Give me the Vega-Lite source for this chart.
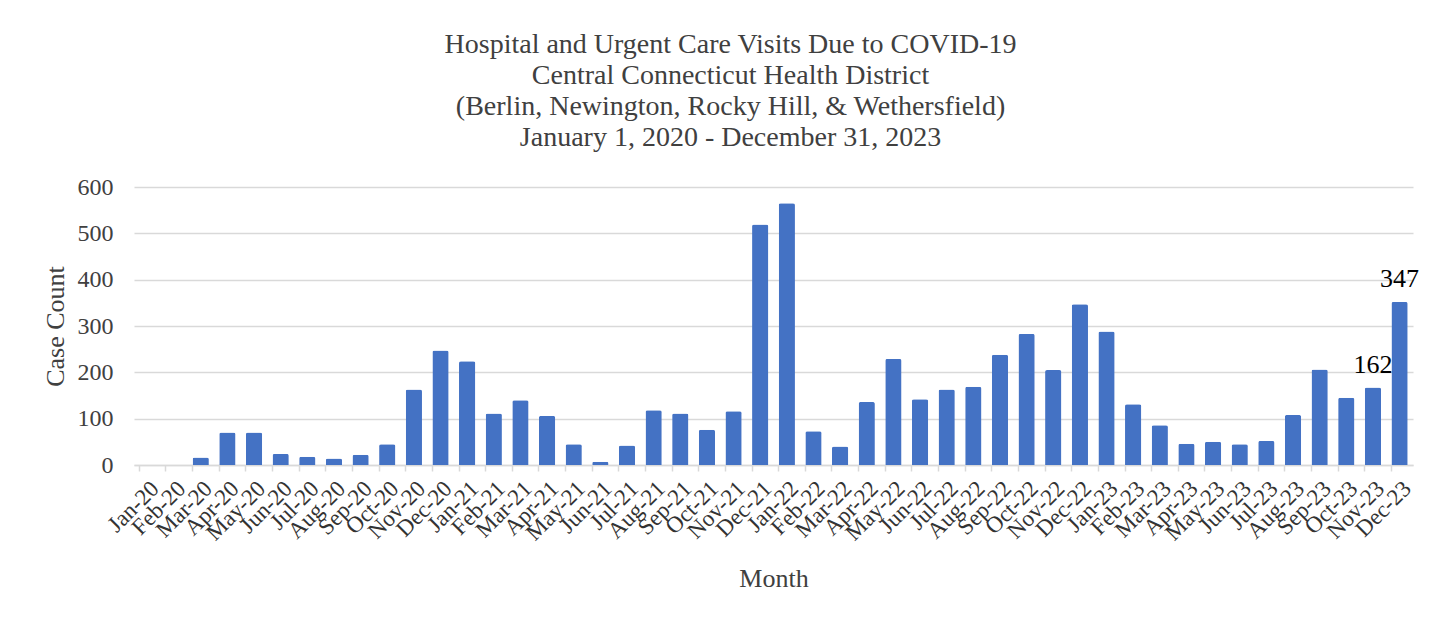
{
  "$schema": "https://vega.github.io/schema/vega-lite/v6.json",
  "width": 1279,
  "height": 278,
  "autosize": {"type": "pad"},
  "padding": {"left": 42, "top": 31, "right": 38, "bottom": 10},
  "background": "white",
  "title": {
    "text": ["Hospital and Urgent Care Visits Due to COVID-19", "Central Connecticut Health District", "(Berlin, Newington, Rocky Hill, & Wethersfield)", "January 1, 2020 - December 31, 2023"],
    "font": "Liberation Serif",
    "fontSize": 28,
    "fontWeight": "normal",
    "color": "#404040",
    "lineHeight": 31,
    "anchor": "middle",
    "frame": "bounds",
    "offset": 23
  },
  "data": {
    "values": [
      {"month": "Jan-20", "count": 0},
      {"month": "Feb-20", "count": 0},
      {"month": "Mar-20", "count": 16},
      {"month": "Apr-20", "count": 70},
      {"month": "May-20", "count": 70},
      {"month": "Jun-20", "count": 24},
      {"month": "Jul-20", "count": 18},
      {"month": "Aug-20", "count": 14},
      {"month": "Sep-20", "count": 22},
      {"month": "Oct-20", "count": 45},
      {"month": "Nov-20", "count": 163},
      {"month": "Dec-20", "count": 247},
      {"month": "Jan-21", "count": 224},
      {"month": "Feb-21", "count": 111},
      {"month": "Mar-21", "count": 140},
      {"month": "Apr-21", "count": 106},
      {"month": "May-21", "count": 45},
      {"month": "Jun-21", "count": 7},
      {"month": "Jul-21", "count": 42},
      {"month": "Aug-21", "count": 118},
      {"month": "Sep-21", "count": 111},
      {"month": "Oct-21", "count": 76},
      {"month": "Nov-21", "count": 116},
      {"month": "Dec-21", "count": 519},
      {"month": "Jan-22", "count": 565},
      {"month": "Feb-22", "count": 73},
      {"month": "Mar-22", "count": 40},
      {"month": "Apr-22", "count": 136},
      {"month": "May-22", "count": 229},
      {"month": "Jun-22", "count": 142},
      {"month": "Jul-22", "count": 163},
      {"month": "Aug-22", "count": 169},
      {"month": "Sep-22", "count": 238},
      {"month": "Oct-22", "count": 283},
      {"month": "Nov-22", "count": 205},
      {"month": "Dec-22", "count": 347},
      {"month": "Jan-23", "count": 288},
      {"month": "Feb-23", "count": 131},
      {"month": "Mar-23", "count": 86},
      {"month": "Apr-23", "count": 46},
      {"month": "May-23", "count": 50},
      {"month": "Jun-23", "count": 45},
      {"month": "Jul-23", "count": 52},
      {"month": "Aug-23", "count": 108},
      {"month": "Sep-23", "count": 206},
      {"month": "Oct-23", "count": 145},
      {"month": "Nov-23", "count": 167, "label": "162"},
      {"month": "Dec-23", "count": 352, "label": "347"}
    ]
  },
  "encoding": {
    "x": {
      "field": "month",
      "type": "nominal",
      "sort": null,
      "scale": {"paddingInner": 0.39, "paddingOuter": 0.2},
      "axis": {
        "title": "Month",
        "titleFont": "Liberation Serif",
        "titleFontSize": 26,
        "titleFontWeight": "normal",
        "titleColor": "#404040",
        "titlePadding": 21,
        "labelFont": "Liberation Serif",
        "labelFontSize": 23,
        "labelColor": "#333333",
        "labelAngle": -45,
        "labelPadding": 6,
        "labelOverlap": false,
        "domainColor": "#d9d9d9",
        "domainWidth": 1.5,
        "tickColor": "#d9d9d9",
        "tickWidth": 1.5,
        "tickSize": 6,
        "bandPosition": 0,
        "grid": false
      }
    },
    "y": {
      "field": "count",
      "type": "quantitative",
      "scale": {"domain": [0, 600]},
      "axis": {
        "title": "Case Count",
        "titleFont": "Liberation Serif",
        "titleFontSize": 26,
        "titleFontWeight": "normal",
        "titleColor": "#404040",
        "titlePadding": 9,
        "labelFont": "Liberation Serif",
        "labelFontSize": 24,
        "labelColor": "#404040",
        "labelPadding": 21,
        "labelOverlap": false,
        "values": [0, 100, 200, 300, 400, 500, 600],
        "domain": false,
        "ticks": false,
        "grid": true,
        "gridColor": "#d9d9d9",
        "gridWidth": 1.5
      }
    }
  },
  "layer": [
    {
      "mark": {"type": "bar", "color": "#4472C4", "cornerRadiusEnd": 2}
    },
    {
      "transform": [{"filter": "datum.label"}],
      "mark": {"type": "text", "font": "Liberation Serif", "fontSize": 26, "color": "#000000", "baseline": "alphabetic", "dy": -15},
      "encoding": {"text": {"field": "label", "type": "nominal"}}
    }
  ],
  "config": {
    "view": {"stroke": null}
  }
}
